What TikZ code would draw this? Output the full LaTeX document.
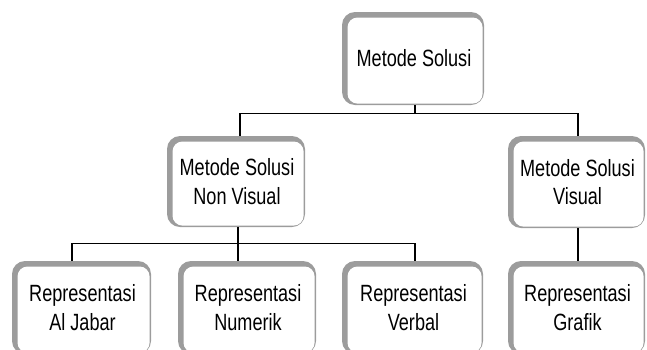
\documentclass[tikz,border=0pt]{standalone}
\usepackage{fontspec}
\setmainfont{Liberation Sans}[FakeStretch=0.77]
\definecolor{boxgray}{HTML}{9C9C9C}
\tikzset{
  lbl/.style={inner sep=0pt, align=center, font=\fontsize{23.5}{28.5}\selectfont},
  conn/.style={draw=black, line width=1.1pt},
}
\newcommand\mybox[6]{%
  \fill[boxgray,rounded corners=13pt] (#2,-#3) rectangle (#4,-#5);
  \fill[white,rounded corners=10pt] (#2+5.5,-#3-5.5) rectangle (#4-1.4,-#5+1.4);
  \node[lbl,minimum width={(#4-#2)*1pt},minimum height={(#5-#3)*1pt}] (#1) at ({(#2+#4)/2+1},{-(#3+#5)/2}) {#6};
}
\begin{document}
\begin{tikzpicture}[x=1pt,y=1pt]
\useasboundingbox (0,0) rectangle (647,-349);
\clip (0,0) rectangle (647,-349);
\mybox{top}{342}{12}{484}{105}{Metode Solusi}
\mybox{ml}{167}{136}{305}{227}{Metode Solusi\\Non Visual}
\mybox{mr}{508}{136}{645}{228}{Metode Solusi\\Visual}
\mybox{b1}{12}{261}{151}{354}{Representasi\\Al Jabar}
\mybox{b2}{178}{261}{316}{354}{Representasi\\Numerik}
\mybox{b3}{342}{261}{483}{354}{Representasi\\Verbal}
\mybox{b4}{508}{261}{645}{354}{Representasi\\Grafik}
% connectors
\draw[conn] ([xshift=1pt]top.south) -- ++(0,-8) coordinate (t1);
\draw[conn] ([xshift=3pt]ml.north) |- (t1) -| ([xshift=0.5pt]mr.north);
\draw[conn] ([xshift=1pt]ml.south) -- ++(0,-16) coordinate (t2);
\draw[conn] ([xshift=-10.5pt]b1.north) |- (t2) -| ([xshift=1.5pt]b3.north);
\draw[conn] (t2) -- ([xshift=-10pt]b2.north);
\draw[conn] ([xshift=0.5pt]mr.south) -- ([xshift=0.5pt]b4.north);
\end{tikzpicture}
\end{document}
